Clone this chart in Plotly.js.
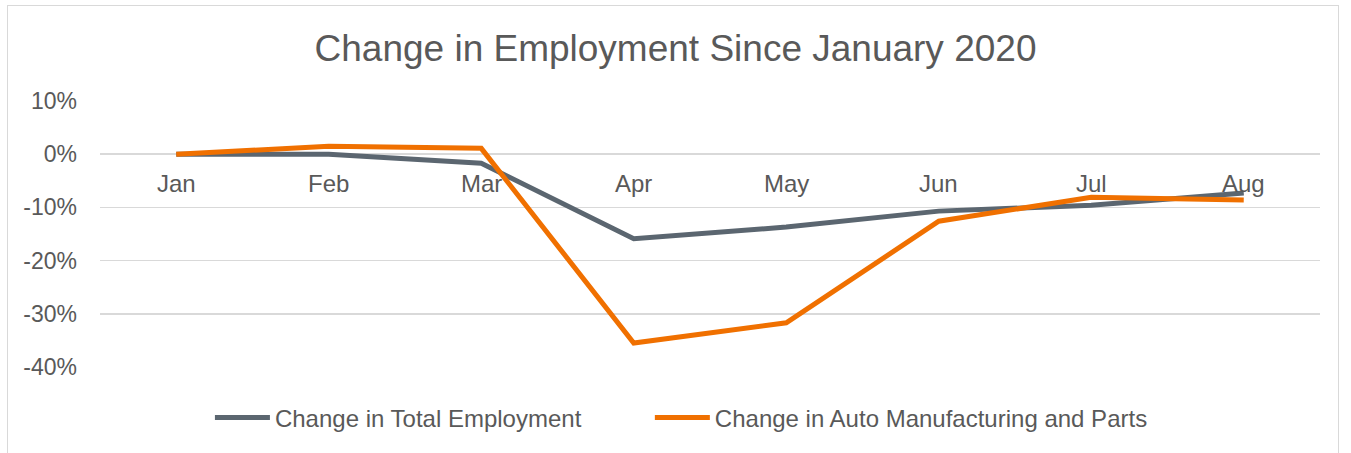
<!DOCTYPE html>
<html>
<head>
<meta charset="utf-8">
<script src="https://cdn.plot.ly/plotly-3.0.1.min.js"></script>
<style>
  html, body { margin: 0; padding: 0; background: #fff; }
  #frame { position: absolute; left: 7px; top: 5px; width: 1332px; height: 460px; border: 1px solid #d9d9d9; box-sizing: border-box; }
  #chart { position: absolute; left: 0; top: 0; width: 1351px; height: 453px; }
</style>
</head>
<body>
<div id="frame"></div>
<div id="chart"></div>
<script>
const months = ["Jan", "Feb", "Mar", "Apr", "May", "Jun", "Jul", "Aug"];
const totalEmployment = [0.0, 0.0, -0.017, -0.159, -0.137, -0.107, -0.096, -0.073];
const autoManufacturing = [0.0, 0.015, 0.011, -0.355, -0.317, -0.126, -0.081, -0.086];
const yTickValues = [0.1, 0, -0.1, -0.2, -0.3, -0.4];
const yTickLabels = ["10%", "0%", "-10%", "-20%", "-30%", "-40%"];

const fontFamily = "Liberation Sans, Arial, sans-serif";
const textColor = "#595959";

const traces = [
  { x: months, y: totalEmployment, name: "Change in Total Employment", type: "scatter", mode: "lines",
    line: { color: "#5b6670", width: 5 }, legend: "legend" },
  { x: months, y: autoManufacturing, name: "Change in Auto Manufacturing and Parts", type: "scatter", mode: "lines",
    line: { color: "#f07000", width: 5 }, legend: "legend2" }
];

const annotations = months.map(m => ({
  x: m, y: 0, xref: "x", yref: "y", text: m, showarrow: false,
  yanchor: "middle", yshift: -29, font: { family: fontFamily, size: 24, color: textColor }
}));

const legendBase = {
  orientation: "h", xanchor: "left", y: -0.1065, yanchor: "top",
  font: { family: fontFamily, size: 24, color: textColor }, itemwidth: 55, bgcolor: "rgba(0,0,0,0)"
};

const layout = {
  width: 1351, height: 453,
  paper_bgcolor: "rgba(0,0,0,0)", plot_bgcolor: "rgba(0,0,0,0)",
  margin: { l: 100, r: 31, t: 101, b: 86 },
  title: { text: "Change in Employment Since January 2020", x: 0.5, xanchor: "center", y: 0.895, yanchor: "middle",
    font: { family: fontFamily, size: 37, color: textColor } },
  font: { family: fontFamily, size: 23, color: textColor },
  showlegend: true,
  legend: Object.assign({}, legendBase, { x: 0.0901 }),
  legend2: Object.assign({}, legendBase, { x: 0.4507 }),
  xaxis: { type: "category", showticklabels: false, showgrid: false, zeroline: false, showline: false,
    ticks: "", range: [-0.5, 7.5], fixedrange: true },
  yaxis: { range: [-0.4, 0.1], tickvals: yTickValues, ticktext: yTickLabels, showgrid: true,
    gridcolor: "#d9d9d9", gridwidth: 1.5, zeroline: false, showline: false, ticks: "",
    ticklabelstandoff: 22, tickfont: { family: fontFamily, size: 23, color: textColor } },
  annotations: annotations
};

Plotly.newPlot("chart", traces, layout, { displayModeBar: false, staticPlot: true });
</script>
</body>
</html>
